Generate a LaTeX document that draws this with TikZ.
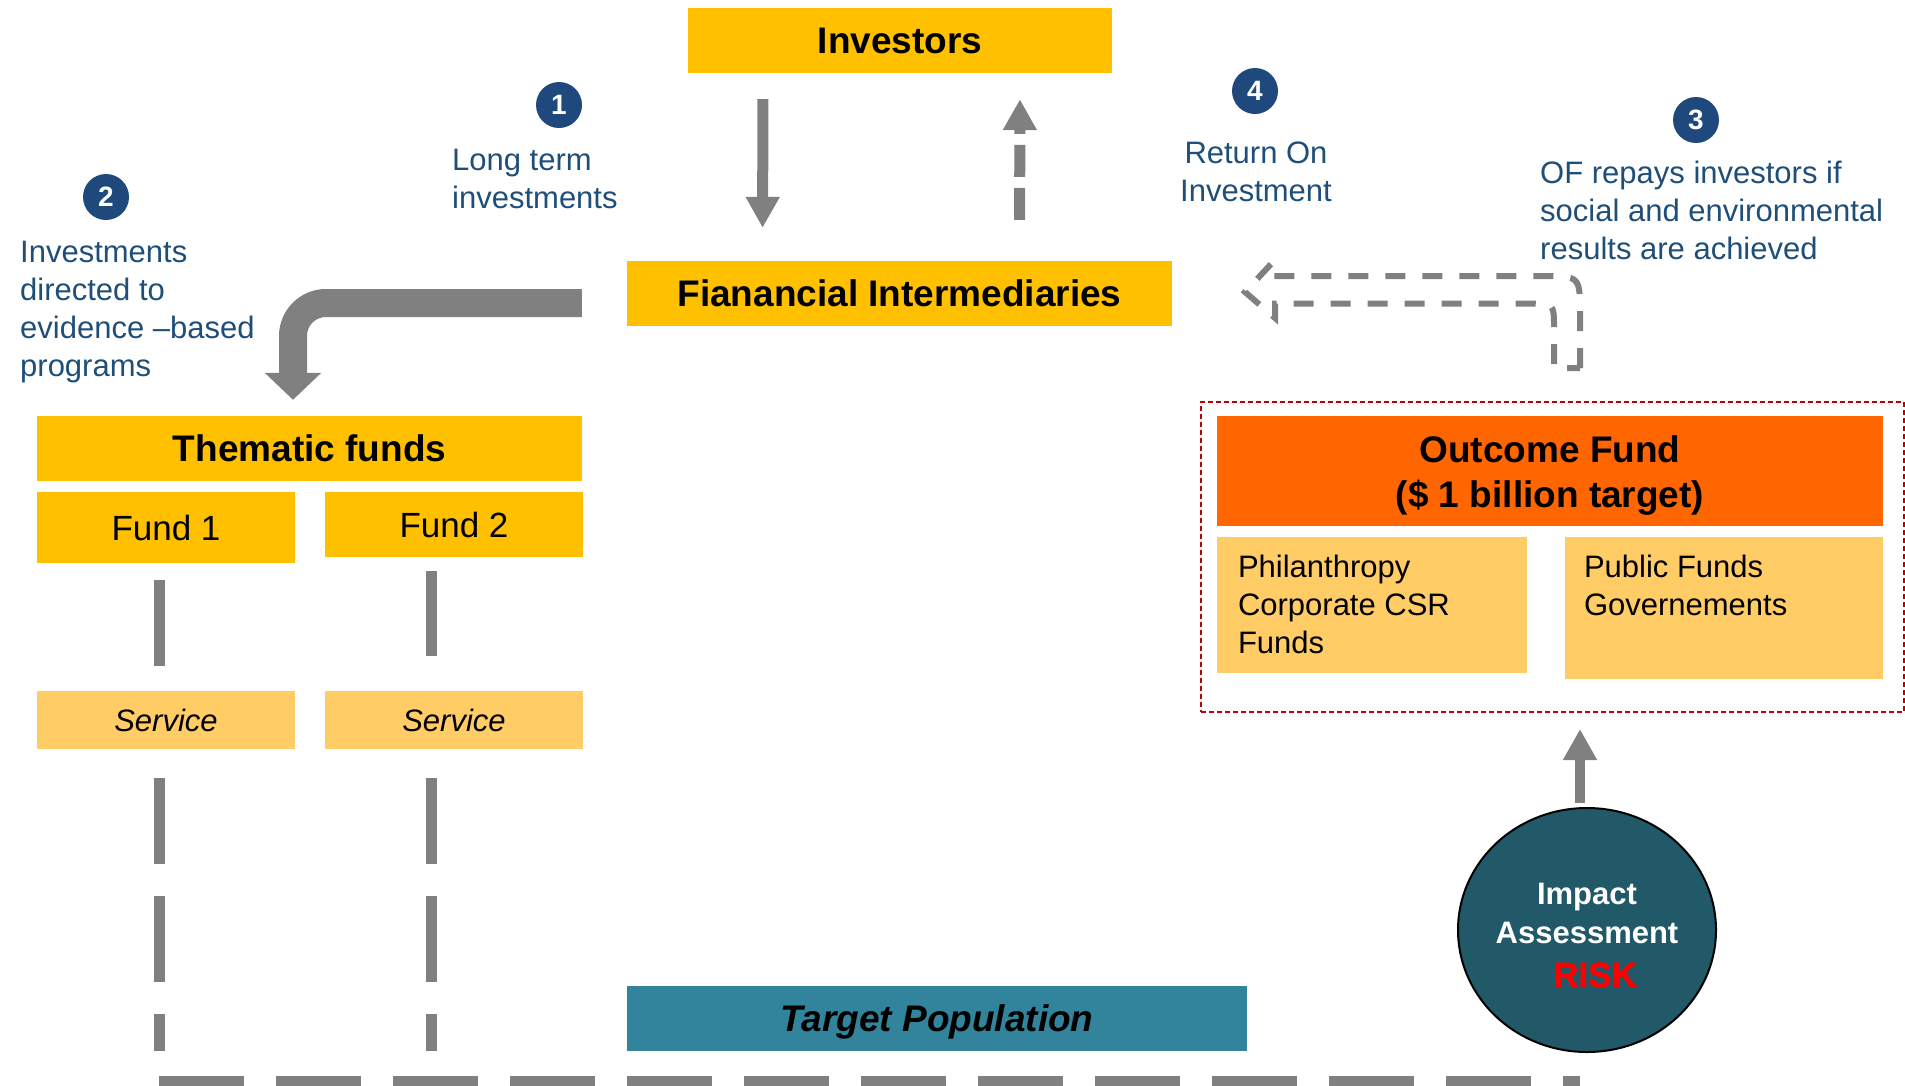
\documentclass[tikz,border=0pt]{standalone}
\usepackage{fontspec}
\setmainfont{Liberation Sans}
\newfontfamily\heavyfont[FakeBold=1.5]{Liberation Sans Bold}
\usetikzlibrary{arrows.meta,shapes.geometric}

\definecolor{gold}{HTML}{FFC000}
\definecolor{lightgold}{HTML}{FFCC66}
\definecolor{outcome}{HTML}{FF6600}
\definecolor{popteal}{HTML}{31849B}
\definecolor{darkteal}{HTML}{215968}
\definecolor{badgeblue}{HTML}{1F497D}
\definecolor{noteblue}{HTML}{1F4E79}
\definecolor{arrowgray}{HTML}{808080}
\definecolor{framered}{HTML}{C00000}

\begin{document}
\begin{tikzpicture}[x=1pt,y=-1pt,
  title/.style={fill=gold,inner sep=0pt,font=\fontsize{37}{44}\selectfont\bfseries},
  fund/.style={fill=gold,inner sep=0pt,font=\fontsize{35}{42}\selectfont},
  service/.style={fill=lightgold,inner sep=0pt,font=\fontsize{31}{38}\selectfont\itshape},
  source/.style={fill=lightgold,inner sep=0pt},
  note/.style={text=noteblue,inner sep=0pt,align=left,font=\fontsize{31}{38}\selectfont},
  badge/.style={circle,fill=badgeblue,text=white,minimum size=46pt,inner sep=0pt,
    font=\fontsize{28}{32}\selectfont\bfseries},
  flow/.style={draw=arrowgray,line width=11pt,-{Triangle[width=32pt,length=31pt]}},
  link/.style={draw=arrowgray,line width=11pt}]
\useasboundingbox (0,0) rectangle (1905,1085);

% main boxes
\node[title,minimum width=424pt,minimum height=65pt] (inv) at (900,40.5) {Investors};
\node[title,minimum width=545pt,minimum height=65pt] (fin) at (899.5,293.5) {Fianancial Intermediaries};
\node[title,minimum width=545pt,minimum height=65pt] (them) at (309.5,448.5) {Thematic funds};
\node[fund,minimum width=258pt,minimum height=71pt] (fundA) at (166,527.5) {Fund 1};
\node[fund,minimum width=258pt,minimum height=65pt] (fundB) at (454,524.5) {Fund 2};
\node[service,minimum width=258pt,minimum height=58pt] (servA) at (166,720) {Service};
\node[service,minimum width=258pt,minimum height=58pt] (servB) at (454,720) {Service};
\node[fill=popteal,inner sep=0pt,minimum width=620pt,minimum height=65pt,text depth=0pt,
  font=\fontsize{37}{44}\selectfont\bfseries\itshape] (target) at (937,1018.5) {Target Population};

% outcome fund group
\node[draw=framered,line width=2pt,dash pattern=on 5pt off 3pt,inner sep=0pt,
  minimum width=703pt,minimum height=310pt] (ofgroup) at (1552.5,557) {};
\node[fill=outcome,inner sep=0pt,minimum width=666pt,minimum height=110pt] (of) at (1550,471) {};
\node[inner sep=0pt,align=center,font=\fontsize{37}{45}\selectfont\bfseries]
  (oftext) at ([yshift=-5pt]of.center) {Outcome Fund\\(\$ 1 billion target)};
\node[source,minimum width=310pt,minimum height=136pt] (phil) at (1372,605) {};
\node[source,minimum width=318pt,minimum height=142pt] (pub) at (1724,608) {};
\node[inner sep=0pt,align=left,anchor=north west,font=\fontsize{31}{38}\selectfont]
  (philtext) at ([xshift=21pt,yshift=-13.4pt]phil.north west)
  {\strut Philanthropy\\Corporate CSR\\Funds};
\node[inner sep=0pt,align=left,anchor=north west,font=\fontsize{31}{38}\selectfont]
  (pubtext) at ([xshift=19pt,yshift=-13.4pt]pub.north west)
  {\strut Public Funds\\Governements};

% impact assessment
\node[ellipse,draw=black,line width=2pt,fill=darkteal,outer sep=0pt,
  minimum width=258pt,minimum height=244pt,inner sep=0pt] (impact) at (1587,930) {};
\node[text=white,inner sep=0pt,align=center,font=\fontsize{31}{39}\selectfont\bfseries]
  (impacttext) at ([yshift=-5pt]impact.center)
  {Impact\\Assessment\\[5pt]\hspace*{16pt}{\color{red}\heavyfont\fontsize{35}{39}\selectfont RISK}};

% numbered notes
\node[badge] (b1) at (559,105) {1};
\node[badge] (b2) at (106,197) {2};
\node[badge] (b3) at (1696,120) {3};
\node[badge] (b4) at (1255,91) {4};
\node[note,anchor=north west] (n1) at (452,143.4) {\strut Long term\\investments};
\node[note,anchor=north west] (n2) at (20,235.4) {\strut Investments\\directed to\\evidence --based\\programs};
\node[note,anchor=north west] (n3) at (1540,156.4) {\strut OF repays investors if\\social and environmental\\results are achieved};
\node[note,anchor=north,align=center] (n4) at (1256,136.4) {\strut Return On\\Investment};

% money flows
\draw[flow,shorten <=26pt,shorten >=33pt] ([xshift=-137pt]inv.south) -- ([xshift=-137pt]fin.north);
\draw[flow,dash pattern=on 32pt off 11pt,shorten <=41pt,shorten >=26pt]
  ([xshift=120pt]fin.north) -- ([xshift=120pt]inv.south);
\draw[draw=arrowgray,line width=28pt,rounded corners=33pt,-{Triangle[width=55pt,length=27pt]},
  shorten <=45pt,shorten >=16pt] ([yshift=-9.5pt]fin.west) -| ([xshift=-16.5pt]them.north);
\draw[draw=arrowgray,line width=10pt,-{Triangle[width=32pt,length=31pt]},
  shorten <=5pt,shorten >=16pt] ([xshift=-7pt]impact.north) -- ([xshift=27.5pt]ofgroup.south);

% repayment (dashed outline arrow)
\draw[arrowgray,line width=6pt,dash pattern=on 20pt off 17pt]
  (1580,368) -- (1580,314) .. controls (1580,276) .. (1542,276) -- (1272,276)
  -- (1272,263) -- (1245,292) -- (1275,318) -- (1275,303.5)
  -- (1529,303.5) .. controls (1554,303.5) .. (1554,328) -- (1554,368) -- cycle;

% funds to services to population
\draw[link,shorten <=17pt,shorten >=25pt] ([xshift=-7pt]fundA.south) -- ([xshift=-7pt]servA.north);
\draw[link,shorten <=14pt,shorten >=35pt] ([xshift=-23pt]fundB.south) -- ([xshift=-23pt]servB.north);
\coordinate (endA) at (159,1051);
\coordinate (endB) at (431,1051);
\draw[link,dash pattern=on 86pt off 32pt,shorten <=29pt] ([xshift=-7pt]servA.south) -- (endA);
\draw[link,dash pattern=on 86pt off 32pt,shorten <=29pt] ([xshift=-23pt]servB.south) -- (endB);
\coordinate (bl) at (159,1081.5);
\coordinate (br) at (1580,1081.5);
\draw[link,dash pattern=on 85pt off 32pt] (bl) -- (br);
\end{tikzpicture}
\end{document}
